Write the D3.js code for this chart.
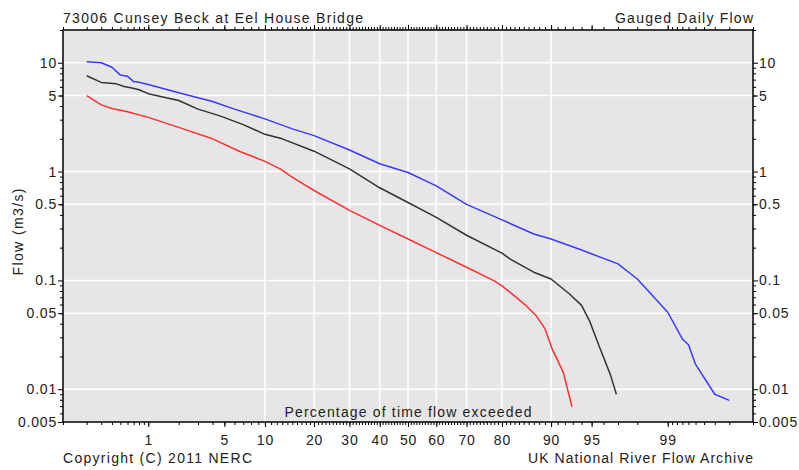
<!DOCTYPE html>
<html>
<head>
<meta charset="utf-8">
<script src="https://cdn.jsdelivr.net/npm/d3@7"></script>
<style>
  body { margin: 0; background: #fff; }
  svg { font-family: "Liberation Sans", Arial, sans-serif; }
  .tick text { font-size: 14px; letter-spacing: 0.8px; fill: #222; }
  .tick line { stroke: #000; }
</style>
</head>
<body>
<svg id="chart" width="799" height="470"></svg>
<script>
// exceedance percentages and flows (m3/s)
var maxPct  = [0.2, 0.3, 0.4, 0.5, 0.6, 0.7, 0.75, 1, 2, 4, 6, 10, 15, 20, 30, 40, 50, 60, 70, 80, 87, 90, 94, 97, 98, 99, 99.3, 99.4, 99.5, 99.7, 99.8];
var maxFlow = [10.2, 10.0, 9.1, 7.7, 7.5, 6.7, 6.7, 6.3, 5.3, 4.4, 3.75, 3.05, 2.47, 2.14, 1.58, 1.18, 0.98, 0.74, 0.50, 0.36, 0.267, 0.24, 0.19, 0.142, 0.103, 0.051, 0.029, 0.0256, 0.0169, 0.009, 0.0079];

var medPct  = [0.2, 0.3, 0.45, 0.55, 0.65, 0.8, 1, 2, 3, 4.6, 7, 10, 13, 20, 30, 40, 50, 60, 70, 80, 82, 87, 90, 92.6, 94, 94.8, 95.7, 96.5, 96.9];
var medFlow = [7.6, 6.6, 6.4, 6.06, 5.9, 5.65, 5.2, 4.5, 3.75, 3.25, 2.7, 2.2, 2.0, 1.54, 1.06, 0.71, 0.52, 0.38, 0.26, 0.178, 0.157, 0.119, 0.103, 0.075, 0.059, 0.0425, 0.0242, 0.0137, 0.009];

var minPct  = [0.2, 0.3, 0.4, 0.6, 1, 2, 4, 6.6, 10, 12.6, 14.5, 16.7, 20, 30, 40, 50, 60, 70, 78, 80, 83, 85.6, 87.5, 89, 90.1, 91.8, 92.9];
var minFlow = [5.0, 4.1, 3.8, 3.55, 3.15, 2.55, 2.0, 1.53, 1.24, 1.06, 0.92, 0.80, 0.67, 0.44, 0.32, 0.24, 0.18, 0.132, 0.099, 0.089, 0.072, 0.058, 0.047, 0.036, 0.024, 0.0142, 0.0069];

var xLabels = [1, 5, 10, 20, 30, 40, 50, 60, 70, 80, 90, 95, 99];
var xGrid = [10, 20, 30, 40, 50, 60, 70, 80, 90];
var yLabels = [10, 5, 1, 0.5, 0.1, 0.05, 0.01, 0.005];
var yGrid = [10, 5, 1, 0.5, 0.1, 0.05, 0.01];

// inverse normal cdf (Acklam)
function probit(p) {
  var a = [-39.69683028665376, 220.9460984245205, -275.9285104469687, 138.3577518672690, -30.66479806614716, 2.506628277459239];
  var b = [-54.47609879822406, 161.5858368580409, -155.6989798598866, 66.80131188771972, -13.28068155288572];
  var c = [-0.007784894002430293, -0.3223964580411365, -2.400758277161838, -2.549732539343734, 4.374664141464968, 2.938163982698783];
  var d = [0.007784695709041462, 0.3224671290700398, 2.445134137142996, 3.754408661907416];
  var pl = 0.02425, q, r;
  if (p < pl) {
    q = Math.sqrt(-2 * Math.log(p));
    return (((((c[0]*q+c[1])*q+c[2])*q+c[3])*q+c[4])*q+c[5]) / ((((d[0]*q+d[1])*q+d[2])*q+d[3])*q+1);
  }
  if (p <= 1 - pl) {
    q = p - 0.5; r = q * q;
    return (((((a[0]*r+a[1])*r+a[2])*r+a[3])*r+a[4])*r+a[5])*q / (((((b[0]*r+b[1])*r+b[2])*r+b[3])*r+b[4])*r+1);
  }
  q = Math.sqrt(-2 * Math.log(1 - p));
  return -(((((c[0]*q+c[1])*q+c[2])*q+c[3])*q+c[4])*q+c[5]) / ((((d[0]*q+d[1])*q+d[2])*q+d[3])*q+1);
}
function z(pct) { return probit(pct / 100); }

var plotL = 63, plotR = 753, plotT = 30, plotB = 422;
var svg = d3.select("#chart");

var x = d3.scaleLinear().domain([z(0.1), z(99.9)]).range([plotL, plotR]);
var y = d3.scaleLog().domain([0.005, 20]).range([plotB, plotT]);

// minor tick positions
var xMinor = [];
for (var i = 1; i <= 9; i++) xMinor.push(i / 10);
for (i = 1; i <= 99; i++) xMinor.push(i);
for (i = 1; i <= 9; i++) xMinor.push(99 + i / 10);
var yMinor = [];
[0.001, 0.01, 0.1, 1, 10].forEach(function(dec) {
  for (var k = 2; k <= 9; k++) if (dec * k >= 0.005 && dec * k <= 20) yMinor.push(dec * k);
});

svg.append("rect")
  .attr("x", plotL).attr("y", plotT)
  .attr("width", plotR - plotL).attr("height", plotB - plotT)
  .attr("fill", "#e6e6e6");

svg.append("g").selectAll("line").data(xGrid).enter().append("line")
  .attr("x1", function(d) { return x(z(d)); }).attr("x2", function(d) { return x(z(d)); })
  .attr("y1", plotT).attr("y2", plotB)
  .attr("stroke", "#fff").attr("stroke-width", 1.5);
svg.append("g").selectAll("line").data(yGrid).enter().append("line")
  .attr("y1", function(d) { return y(d); }).attr("y2", function(d) { return y(d); })
  .attr("x1", plotL).attr("x2", plotR)
  .attr("stroke", "#fff").attr("stroke-width", 1.5);

// axes
function xTicks(axisFn, ypos, vals, size, labels) {
  var g = svg.append("g").attr("transform", "translate(0," + ypos + ")")
    .call(axisFn(x).tickValues(vals.map(z)).tickSize(size).tickPadding(5)
      .tickFormat(function(d, i) { return labels ? vals[i] : ""; }));
  g.select(".domain").remove();
  return g;
}
xTicks(d3.axisTop, plotT, xMinor, 3, false);
xTicks(d3.axisTop, plotT, xLabels, 5, false);
xTicks(d3.axisBottom, plotB, xMinor, 3, false);
xTicks(d3.axisBottom, plotB, xLabels, 5, true).selectAll("text").attr("dy", "0.95em");

function yTicks(axisFn, xpos, vals, size, labels) {
  var g = svg.append("g").attr("transform", "translate(" + xpos + ",0)")
    .call(axisFn(y).tickValues(vals).tickSize(size).tickPadding(1)
      .tickFormat(function(d) { return labels ? d : ""; }));
  g.select(".domain").remove();
  return g;
}
yTicks(d3.axisLeft, plotL, yMinor, 3, false);
yTicks(d3.axisLeft, plotL, yLabels, 5, true);
yTicks(d3.axisRight, plotR, yMinor, 3, false);
yTicks(d3.axisRight, plotR, yLabels, 5, true);

svg.append("rect")
  .attr("x", plotL).attr("y", plotT)
  .attr("width", plotR - plotL).attr("height", plotB - plotT)
  .attr("fill", "none").attr("stroke", "#000").attr("stroke-width", 1.5);

// curves
var line = d3.line()
  .x(function(d) { return x(z(d[0])); })
  .y(function(d) { return y(d[1]); });
var series = [
  {pct: maxPct, flow: maxFlow, color: "#3a3aff"},
  {pct: medPct, flow: medFlow, color: "#333333"},
  {pct: minPct, flow: minFlow, color: "#ff3030"}
];
series.forEach(function(s) {
  svg.append("path")
    .datum(d3.zip(s.pct, s.flow))
    .attr("fill", "none")
    .attr("stroke", s.color)
    .attr("stroke-width", 1.5)
    .attr("stroke-linejoin", "round")
    .attr("d", line);
});

// texts
function label(txt, tx, ty, anchor, len) {
  return svg.append("text")
    .attr("x", tx).attr("y", ty)
    .attr("text-anchor", anchor)
    .attr("font-size", 14)
    .attr("fill", "#222")
    .attr("textLength", len)
    .attr("lengthAdjust", "spacing")
    .text(txt);
}
label("73006 Cunsey Beck at Eel House Bridge", 63, 23, "start", 300);
label("Gauged Daily Flow", 753, 23, "end", 138);
label("Percentage of time flow exceeded", 408, 417, "middle", 247);
label("Copyright (C) 2011 NERC", 63, 463, "start", 189);
label("UK National River Flow Archive", 753, 463, "end", 225);
label("Flow (m3/s)", 0, 0, "middle", 87)
  .attr("transform", "translate(23,232) rotate(-90)");
</script>
</body>
</html>
